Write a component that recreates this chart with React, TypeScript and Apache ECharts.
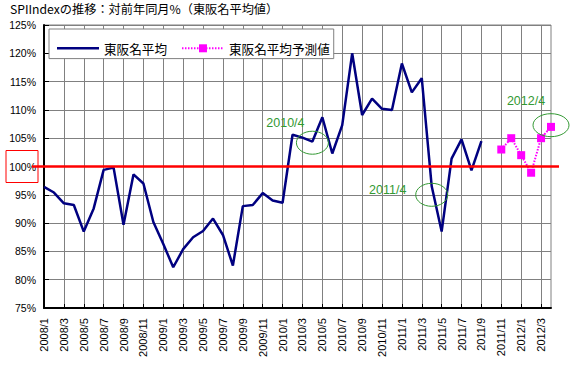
import React, { useEffect, useRef } from "react";
import * as echarts from "echarts";

const categories = [
  "2008/1", "2008/2", "2008/3", "2008/4", "2008/5", "2008/6", "2008/7", "2008/8", "2008/9", "2008/10", "2008/11", "2008/12",
  "2009/1", "2009/2", "2009/3", "2009/4", "2009/5", "2009/6", "2009/7", "2009/8", "2009/9", "2009/10", "2009/11", "2009/12",
  "2010/1", "2010/2", "2010/3", "2010/4", "2010/5", "2010/6", "2010/7", "2010/8", "2010/9", "2010/10", "2010/11", "2010/12",
  "2011/1", "2011/2", "2011/3", "2011/4", "2011/5", "2011/6", "2011/7", "2011/8", "2011/9", "2011/10", "2011/11", "2011/12",
  "2012/1", "2012/2", "2012/3", "2012/4",
];

const actualValues = [
  96.4, 95.4, 93.5, 93.2, 88.5, 92.6, 99.4, 99.8, 89.7, 98.6, 97.0, 90.2,
  86.3, 82.2, 85.4, 87.5, 88.6, 90.8, 87.9, 82.5, 93.0, 93.2, 95.3, 94.0,
  93.6, 105.6, 105.1, 104.4, 108.7, 102.3, 107.3, 120.0, 109.1, 112.0, 110.2, 110.0,
  118.2, 113.1, 115.6, 96.5, 88.5, 101.4, 104.8, 99.3, 104.5, null, null, null,
  null, null, null, null,
];

const forecastValues = [
  null, null, null, null, null, null, null, null, null, null, null, null,
  null, null, null, null, null, null, null, null, null, null, null, null,
  null, null, null, null, null, null, null, null, null, null, null, null,
  null, null, null, null, null, null, null, null, null, null, 103.0, 105.0,
  102.0, 98.9, 105.0, 107.0,
];

const seriesNames = ["東阪名平均", "東阪名平均予測値"];
const titleText = "SPIIndexの推移：対前年同月%（東阪名平均値）";
const referenceValue = 100;

// annotation ellipses (category, value) and their labels
const annotationCats = ["2010/4", "2011/4", "2012/4"];
const annotationVals = [104.2, 95.0, 107.3];
const annotationLabels = ["2010/4", "2011/4", "2012/4"];

const CJK = "'Noto Sans CJK JP', 'Noto Sans', sans-serif";
const LAT = "'Liberation Sans', Arial, sans-serif";
const GREEN = "#339933";

export default function App() {
  const ref = useRef<HTMLDivElement>(null);
  useEffect(() => {
    if (!ref.current) return;
    const chart = echarts.init(ref.current, undefined, { renderer: "svg" });
    chart.setOption({
      animation: false,
      backgroundColor: "#ffffff",
      title: {
        text: titleText,
        left: 10,
        top: 3,
        padding: 0,
        textStyle: { fontFamily: CJK, fontSize: 12.2, fontWeight: "normal", color: "#000" },
      },
      legend: {
        left: 49,
        top: 29,
        padding: [13, 4, 4, 8],
        itemWidth: 42,
        itemHeight: 10,
        itemGap: 14,
        backgroundColor: "#ffffff",
        borderColor: "#808080",
        borderWidth: 1,
        textStyle: { fontFamily: CJK, fontSize: 12.6, color: "#000" },
        data: [
          { name: seriesNames[0], icon: "path://M0,0L42,0L42,2.5L0,2.5Z" },
          { name: seriesNames[1] },
        ],
      },
      grid: {
        left: 44,
        top: 25,
        right: 23,
        bottom: 59,
        show: true,
        borderColor: "#808080",
        borderWidth: 1,
        containLabel: false,
      },
      xAxis: {
        type: "category",
        data: categories,
        boundaryGap: false,
        axisLine: { lineStyle: { color: "#000", width: 2 } },
        axisTick: { inside: true, length: 4, interval: 1, lineStyle: { color: "#000" } },
        axisLabel: {
          interval: 1,
          rotate: 90,
          margin: 10,
          fontFamily: LAT,
          fontSize: 11,
          color: "#000",
        },
        splitLine: { show: true, interval: 1, lineStyle: { color: "#808080", width: 1 } },
      },
      yAxis: {
        type: "value",
        min: 75,
        max: 125,
        interval: 5,
        axisLine: { show: true, lineStyle: { color: "#000", width: 2 } },
        axisTick: { show: true, inside: true, length: 5, lineStyle: { color: "#000" } },
        axisLabel: {
          formatter: "{value}%",
          margin: 8,
          fontFamily: LAT,
          fontSize: 10.5,
          color: "#000",
        },
        splitLine: { show: true, lineStyle: { color: "#808080", width: 1 } },
      },
      series: [
        {
          name: seriesNames[0],
          type: "line",
          data: actualValues,
          symbol: "none",
          connectNulls: false,
          lineStyle: { color: "#000080", width: 2.5 },
          itemStyle: { color: "#000080" },
          z: 3,
        },
        {
          name: seriesNames[1],
          type: "line",
          data: forecastValues,
          symbol: "rect",
          symbolSize: 8,
          showSymbol: true,
          showAllSymbol: true,
          connectNulls: false,
          lineStyle: { color: "#FF00FF", width: 2, type: [1.5, 1.5] },
          itemStyle: { color: "#FF00FF" },
          z: 4,
        },
      ],
    });

    const refY = chart.convertToPixel({ yAxisIndex: 0 }, referenceValue) as number;
    const graphics: any[] = [
      {
        type: "line",
        z: 100,
        shape: { x1: 32, y1: refY, x2: 559, y2: refY },
        style: { stroke: "#FF0000", lineWidth: 2.5 },
      },
      {
        type: "rect",
        z: 100,
        shape: { x: 6, y: refY - 16, width: 32, height: 32 },
        style: { fill: "none", stroke: "#FF0000", lineWidth: 1 },
      },
    ];
    const rxs = [16, 16, 18];
    const labelOffsets = [
      [-27, -20],
      [-44, -5],
      [-25, -24.5],
    ];
    annotationCats.forEach((c, i) => {
      const p = chart.convertToPixel({ xAxisIndex: 0, yAxisIndex: 0 }, [c, annotationVals[i]]) as number[];
      graphics.push({
        type: "ellipse",
        z: 101,
        shape: { cx: p[0], cy: p[1], rx: rxs[i], ry: 11.5 },
        style: { fill: "none", stroke: GREEN, lineWidth: 1 },
      });
      graphics.push({
        type: "text",
        z: 101,
        x: p[0] + labelOffsets[i][0],
        y: p[1] + labelOffsets[i][1],
        style: {
          text: annotationLabels[i],
          fill: GREEN,
          font: `12.5px ${LAT}`,
          align: "center",
          verticalAlign: "middle",
        },
      });
    });
    chart.setOption({ graphic: graphics });

    return () => chart.dispose();
  }, []);
  return (
    <div
      ref={ref}
      style={{ position: "absolute", left: 0, top: 0, width: 574, height: 367, background: "#fff" }}
    />
  );
}
